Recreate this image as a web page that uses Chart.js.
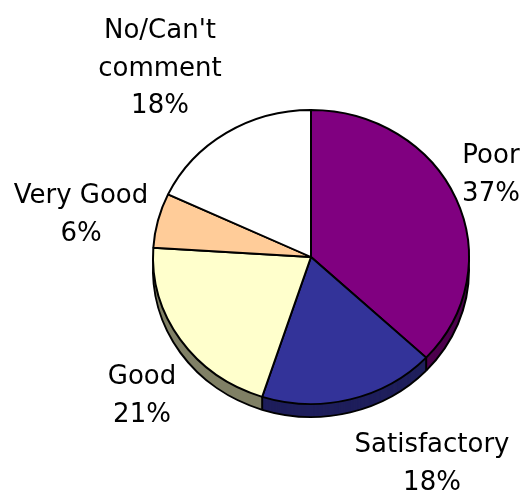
<!DOCTYPE html>
<html>
<head>
<meta charset="utf-8">
<script src="https://cdn.jsdelivr.net/npm/chart.js@4/dist/chart.umd.min.js"></script>
<style>
  html, body { margin: 0; padding: 0; background: #ffffff; }
  #wrap { width: 521px; height: 491px; }
</style>
</head>
<body>
<div id="wrap"><canvas id="c" width="521" height="491"></canvas></div>
<script>
// ---- data ----
const categories = ['Poor', 'Satisfactory', 'Good', 'Very Good', "No/Can't comment"];
const values = [37, 18, 21, 6, 18];
const percentLabels = ['37%', '18%', '21%', '6%', '18%'];
const labelLines = [['Poor'], ['Satisfactory'], ['Good'], ['Very Good'], ["No/Can't", 'comment']];
const topColors = ['#800080', '#333399', '#FFFFCC', '#FFCC99', '#FFFFFF'];
const sideColors = ['#4D004D', '#1F1F5C', '#808066', '#99795C', '#999999'];

// ---- layout (not data) ----
const labelAnchors = [[491, 163], [432, 452], [142, 384], [81, 203], [160, 38]]; // centre x, first baseline y
const lineHeight = 37.5;
const ellipseRatio = 147 / 158;
const depth = 13;

const pie3d = {
  id: 'pie3d',
  beforeDatasetsDraw(chart) {
    const ctx = chart.ctx;
    const arcs = chart.getDatasetMeta(0).data;
    const cx = arcs[0].x, cy = arcs[0].y;
    const s = ellipseRatio;
    ctx.save();
    ctx.translate(cx, cy);
    ctx.scale(1, s);
    ctx.translate(-cx, -cy);
    // side walls
    for (let k = depth; k >= 1; k -= 0.5) {
      const dy = k / s;
      arcs.forEach((a, i) => {
        ctx.beginPath();
        ctx.moveTo(a.x, a.y + dy);
        ctx.arc(a.x, a.y + dy, a.outerRadius, a.startAngle, a.endAngle);
        ctx.closePath();
        ctx.fillStyle = sideColors[i];
        ctx.fill();
      });
    }
    // bottom outline
    ctx.lineWidth = 2;
    ctx.strokeStyle = '#000';
    arcs.forEach((a) => {
      ctx.beginPath();
      ctx.arc(a.x, a.y + depth / s, a.outerRadius, a.startAngle, a.endAngle);
      ctx.stroke();
    });
    // vertical dividers on the side
    arcs.forEach((a) => {
      const ang = a.startAngle;
      if (Math.sin(ang) > 0) {
        const px = a.x + a.outerRadius * Math.cos(ang);
        const py = a.y + a.outerRadius * Math.sin(ang);
        ctx.beginPath();
        ctx.moveTo(px, py);
        ctx.lineTo(px, py + depth / s);
        ctx.stroke();
      }
    });
    // leave the elliptical transform on for the top face
  },
  afterDatasetsDraw(chart) {
    chart.ctx.restore();
  },
  afterDraw(chart) {
    const ctx = chart.ctx;
    ctx.save();
    ctx.fillStyle = '#000';
    ctx.font = '26px "DejaVu Sans"';
    ctx.textAlign = 'center';
    ctx.textBaseline = 'alphabetic';
    labelLines.forEach((lines, i) => {
      const [x, y] = labelAnchors[i];
      const all = lines.concat([percentLabels[i]]);
      all.forEach((t, j) => ctx.fillText(t, x, y + j * lineHeight));
    });
    ctx.restore();
  }
};

new Chart(document.getElementById('c'), {
  type: 'pie',
  data: {
    labels: categories,
    datasets: [{
      data: values,
      backgroundColor: topColors,
      borderColor: '#000000',
      borderWidth: 2,
      clip: false
    }]
  },
  options: {
    responsive: false,
    animation: false,
    devicePixelRatio: 1,
    layout: { padding: { left: 152, right: 51, top: 98, bottom: 75 } },
    plugins: {
      legend: { display: false },
      tooltip: { enabled: false },
      title: { display: false }
    }
  },
  plugins: [pie3d]
});
</script>
</body>
</html>
